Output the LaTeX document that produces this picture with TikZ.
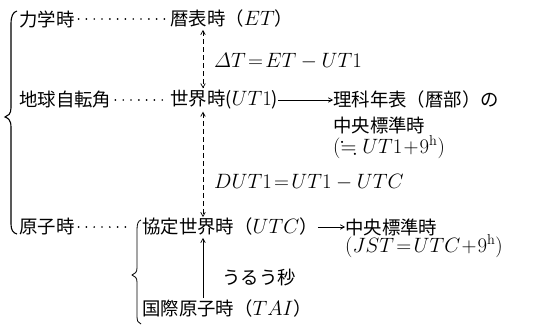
\documentclass[tikz,border=0pt]{standalone}
\usepackage{amsmath}
\usepackage{amssymb}
\usepackage[no-math]{fontspec}
\setmainfont{Noto Sans CJK JP}
\usetikzlibrary{arrows.meta}
\newcommand\mth[1]{{\fontsize{20.5}{24}\selectfont$#1$}}
\tikzset{
  lbl/.style={anchor=west, inner sep=0pt, font=\fontsize{18.4}{22}\selectfont},
  leader/.style={line width=1.9pt, line cap=round, dash pattern=on 0pt off 7.8pt},
  conn/.style={line width=0.7pt, -{Straight Barb[length=4pt,width=4.5pt]}},
  dconn/.style={line width=0.7pt, dash pattern=on 5pt off 3pt, {Straight Barb[length=4pt,width=4.5pt]}-{Straight Barb[length=4pt,width=4.5pt]}},
  brace/.style={line width=1.1pt}
}
\begin{document}
\begin{tikzpicture}[x=1pt,y=-1pt]
\useasboundingbox (0,0) rectangle (540,329);
\coordinate (ax) at (203,0);
\node[lbl] (rikigaku) at (19,19) {力学時};
\node[lbl] (reki) at (170,19) {暦表時（\mth{ET}）};
\node[lbl] (dT) at (214,61) {\mth{\varDelta T\!=\!ET-UT1}};
\node[lbl] (chikyu) at (19,100) {地球自転角};
\node[lbl] (sekai) at (170,100) {世界時(\mth{UT1})};
\node[lbl] (rika) at (333,100) {理科年表（暦部）の};
\node[lbl] (chuo1) at (333,125) {中央標準時};
\node[lbl] (eq1) at (333,147) {\mth{(\fallingdotseq UT1\!+\!9^{\mathrm{h}})}};
\node[lbl] (dut) at (214,182) {\mth{DUT1\!=\!UT1-UTC}};
\node[lbl] (genshi) at (19,227) {原子時};
\node[lbl] (utc) at (142,227) {協定世界時（\mth{UTC}）};
\node[lbl] (chuo2) at (345,227) {中央標準時};
\node[lbl] (eq2) at (345,246) {\mth{(JST\!=\!UTC\!+\!9^{\mathrm{h}})}};
\node[lbl] (uru) at (222,278) {うるう秒};
\node[lbl] (tai) at (142,309) {国際原子時（\mth{TAI}）};
% leaders
\draw[leader] ([xshift=4pt]rikigaku.east) -- ([xshift=-1pt]reki.west);
\draw[leader] ([xshift=4pt]chikyu.east) -- ([xshift=-1pt]sekai.west);
\draw[leader] ([xshift=4pt]genshi.east) -- ([xshift=-10pt]utc.west);
% vertical connectors
\draw[dconn] ([yshift=-2pt]reki.south -| ax) -- ([yshift=2pt]sekai.north -| ax);
\draw[dconn] ([yshift=-2pt]sekai.south -| ax) -- ([yshift=1pt]utc.north -| ax);
\draw[conn] ([yshift=2pt]tai.north -| ax) -- ([yshift=-2pt]utc.south -| ax);
% horizontal connectors
\draw[conn] (sekai.east) -- (rika.west);
\draw[conn] (utc.east) -- (chuo2.west);
% big brace
\draw[brace] (17,11) .. controls (13,12) and (11,16) .. (11,24) -- (11,108)
  .. controls (11,114) and (8,116) .. (5,117)
  .. controls (8,118) and (11,120) .. (11,127) -- (11,224)
  .. controls (11,230) and (13,233) .. (17,234);
% small brace
\draw[brace, line width=0.8pt] (141,220) .. controls (138,221) and (137,224) .. (137,230) -- (137,268)
  .. controls (137,272) and (135,274) .. (132,275)
  .. controls (135,276) and (137,278) .. (137,282) -- (137,316)
  .. controls (137,321) and (138,323) .. (141,324);
\end{tikzpicture}
\end{document}
